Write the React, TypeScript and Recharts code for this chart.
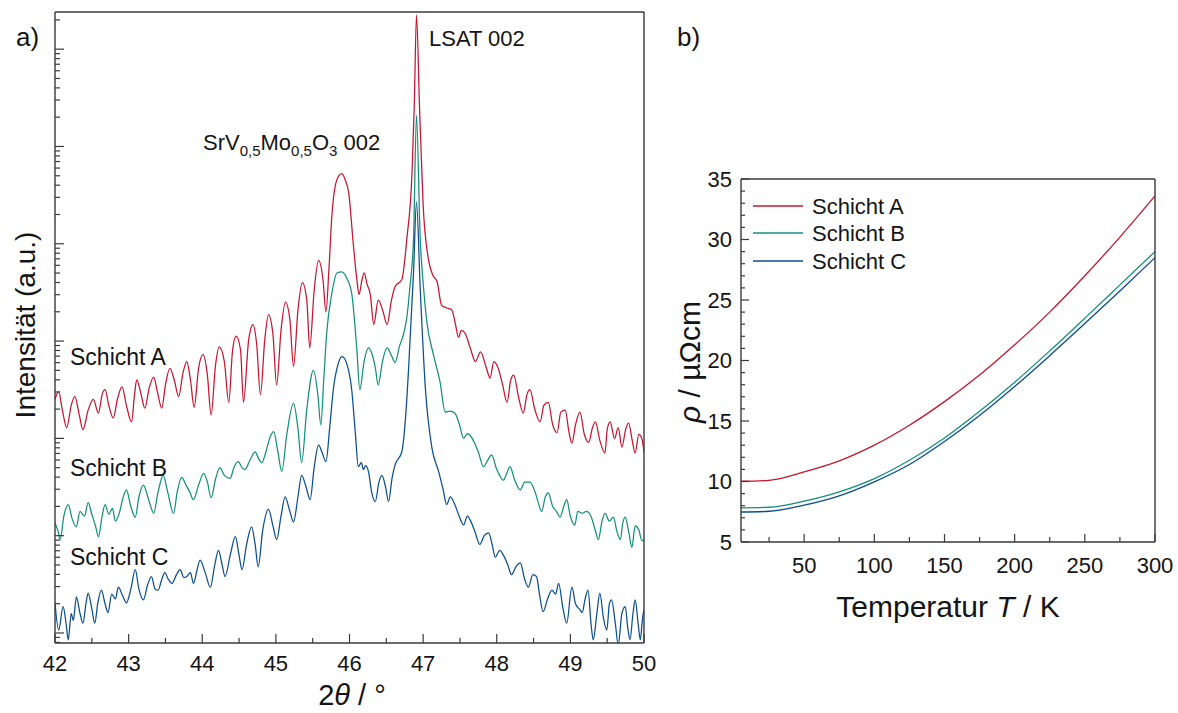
import React from "react";
import { LineChart, Line, XAxis, YAxis } from "recharts";

const FONT = "'Liberation Sans', Arial, Helvetica, sans-serif";
const INK = "#141414";
const AXIS = "#3a3a3a";
const RED = "#c3162f";
const GREEN = "#12907b";
const BLUE = "#0b4e8e";

// a) XRD scans. Intensity stored as log10 (1 = lowest labelled decade)
const thetaA = [
  42.0, 42.05, 42.1, 42.16, 42.22, 42.27, 42.33, 42.38, 42.45, 42.52, 42.59, 42.64, 42.68, 42.73, 42.79, 42.85,
  42.91, 42.97, 43.04, 43.08, 43.11, 43.17, 43.22, 43.28, 43.34, 43.39, 43.45, 43.5, 43.56, 43.62, 43.68, 43.74,
  43.79, 43.84, 43.89, 43.95, 44.01, 44.07, 44.12, 44.18, 44.23, 44.3, 44.36, 44.41, 44.46, 44.52, 44.56, 44.63,
  44.69, 44.74, 44.79, 44.85, 44.9, 44.96, 45.01, 45.07, 45.13, 45.19, 45.24, 45.3, 45.36, 45.42, 45.46, 45.52,
  45.58, 45.64, 45.68, 45.72, 45.76, 45.83, 45.895, 45.94, 45.99, 46.05, 46.1, 46.13, 46.17, 46.2, 46.24, 46.28,
  46.33, 46.39, 46.45, 46.51, 46.57, 46.62, 46.71, 46.78, 46.85, 46.88, 46.91, 46.95, 47.0, 47.07, 47.13, 47.19,
  47.25, 47.32, 47.39, 47.44, 47.48, 47.52, 47.57, 47.64, 47.71, 47.78, 47.86, 47.91, 47.96, 48.02, 48.08, 48.14,
  48.19, 48.23, 48.3, 48.36, 48.41, 48.45, 48.52, 48.59, 48.64, 48.7, 48.76, 48.82, 48.87, 48.93, 48.98, 49.02,
  49.07, 49.13, 49.19, 49.25, 49.3, 49.34, 49.4, 49.47, 49.5, 49.54, 49.6, 49.65, 49.7, 49.75, 49.79, 49.84,
  49.88, 49.93, 49.97, 50.0,
];
const lgA = [
  3.40, 3.48, 3.29, 3.11, 3.34, 3.43, 3.24, 3.09, 3.29, 3.40, 3.26, 3.45, 3.50, 3.34, 3.21, 3.41,
  3.53, 3.34, 3.17, 3.45, 3.60, 3.45, 3.31, 3.52, 3.63, 3.48, 3.31, 3.55, 3.72, 3.60, 3.43, 3.68,
  3.79, 3.60, 3.32, 3.72, 3.86, 3.65, 3.24, 3.75, 3.94, 3.79, 3.37, 3.89, 4.05, 3.91, 3.37, 4.01,
  4.17, 3.96, 3.45, 4.02, 4.27, 4.07, 3.55, 4.11, 4.40, 4.22, 3.74, 4.32, 4.60, 4.42, 3.93, 4.52,
  4.83, 4.63, 4.30, 4.73, 5.28, 5.66, 5.72, 5.66, 5.52, 5.01, 4.63, 4.48, 4.63, 4.70, 4.58, 4.49,
  4.17, 4.42, 4.32, 4.17, 4.42, 4.56, 4.63, 5.06, 5.74, 6.43, 7.35, 6.43, 5.40, 4.85, 4.68, 4.61,
  4.37, 4.34, 4.32, 4.17, 4.04, 4.11, 4.08, 3.93, 3.79, 3.89, 3.72, 3.62, 3.79, 3.72, 3.55, 3.37,
  3.60, 3.65, 3.41, 3.26, 3.45, 3.50, 3.29, 3.17, 3.34, 3.37, 3.14, 3.06, 3.27, 3.29, 3.07, 2.95,
  3.14, 3.27, 3.04, 2.96, 3.11, 3.17, 2.98, 2.85, 3.09, 3.17, 3.00, 3.11, 2.91, 3.09, 3.16, 2.98,
  2.85, 3.04, 3.00, 2.86,
];

const thetaB = [
  42.0, 42.04, 42.07, 42.12, 42.18, 42.23, 42.29, 42.34, 42.4, 42.45, 42.5, 42.55, 42.59, 42.64, 42.68, 42.73,
  42.78, 42.82, 42.88, 42.92, 42.97, 43.03, 43.09, 43.14, 43.2, 43.26, 43.3, 43.34, 43.4, 43.47, 43.53, 43.61,
  43.66, 43.72, 43.78, 43.83, 43.88, 43.95, 44.02, 44.07, 44.12, 44.18, 44.24, 44.3, 44.38, 44.43, 44.49, 44.54,
  44.58, 44.65, 44.72, 44.76, 44.81, 44.86, 44.92, 44.97, 45.03, 45.08, 45.15, 45.24, 45.3, 45.35, 45.42, 45.51,
  45.57, 45.61, 45.65, 45.69, 45.76, 45.83, 45.895, 45.96, 46.03, 46.1, 46.14, 46.2, 46.26, 46.3, 46.35, 46.39,
  46.45, 46.51, 46.57, 46.62, 46.68, 46.73, 46.78, 46.82, 46.87, 46.91, 46.96, 47.0, 47.05, 47.14, 47.23, 47.3,
  47.36, 47.43, 47.49, 47.55, 47.6, 47.64, 47.7, 47.75, 47.82, 47.88, 47.93, 48.0, 48.04, 48.09, 48.14, 48.18,
  48.24, 48.32, 48.38, 48.45, 48.52, 48.56, 48.61, 48.66, 48.7, 48.76, 48.81, 48.86, 48.91, 48.95, 49.0, 49.06,
  49.1, 49.16, 49.22, 49.29, 49.34, 49.38, 49.43, 49.47, 49.53, 49.585, 49.63, 49.68, 49.71, 49.745, 49.79, 49.835,
  49.88, 49.93, 49.97, 50.0,
];
const lgB = [
  2.13, 2.05, 1.96, 2.20, 2.32, 2.18, 2.09, 2.25, 2.20, 2.34, 2.22, 2.10, 1.99, 2.20, 2.32, 2.22,
  2.28, 2.15, 2.25, 2.38, 2.47, 2.30, 2.19, 2.40, 2.52, 2.40, 2.30, 2.23, 2.45, 2.62, 2.45, 2.23,
  2.45, 2.60, 2.52, 2.45, 2.37, 2.52, 2.64, 2.55, 2.39, 2.58, 2.70, 2.62, 2.59, 2.70, 2.76, 2.70,
  2.68, 2.78, 2.86, 2.80, 2.75, 2.85, 3.01, 3.07, 2.85, 2.66, 3.05, 3.36, 3.10, 2.75, 3.30, 3.70,
  3.45, 3.14, 3.60, 4.08, 4.49, 4.70, 4.71, 4.65, 4.49, 3.91, 3.50, 3.80, 3.93, 3.88, 3.73, 3.55,
  3.80, 3.93, 3.85, 3.78, 3.95, 4.06, 4.25, 4.55, 5.06, 6.32, 5.06, 4.60, 4.20, 3.86, 3.58, 3.27,
  3.28, 3.26, 3.15, 3.00, 3.05, 3.03, 2.95, 2.86, 2.71, 2.78, 2.83, 2.68, 2.62, 2.57, 2.65, 2.71,
  2.58, 2.47, 2.55, 2.55, 2.45, 2.35, 2.25, 2.40, 2.44, 2.30, 2.25, 2.19, 2.30, 2.37, 2.20, 2.11,
  2.25, 2.23, 2.25, 2.18, 2.05, 1.96, 2.15, 2.23, 2.15, 2.19, 2.05, 1.96, 2.12, 2.19, 2.05, 1.88,
  2.10, 2.06, 1.95, 1.96,
];

const thetaC = [
  42.0, 42.05, 42.11, 42.15, 42.18, 42.22, 42.25, 42.29, 42.34, 42.38, 42.42, 42.45, 42.5, 42.54, 42.58, 42.63,
  42.68, 42.72, 42.77, 42.82, 42.86, 42.92, 42.97, 43.03, 43.09, 43.14, 43.2, 43.26, 43.31, 43.36, 43.4, 43.45,
  43.49, 43.54, 43.59, 43.65, 43.7, 43.75, 43.79, 43.84, 43.88, 43.93, 43.97, 44.04, 44.11, 44.17, 44.22, 44.27,
  44.31, 44.38, 44.45, 44.5, 44.54, 44.6, 44.67, 44.72, 44.76, 44.82, 44.9, 44.96, 45.01, 45.07, 45.125, 45.19,
  45.24, 45.3, 45.35, 45.41, 45.465, 45.52, 45.58, 45.63, 45.68, 45.73, 45.78, 45.84, 45.9, 45.97, 46.03, 46.08,
  46.12, 46.16, 46.19, 46.22, 46.26, 46.3, 46.35, 46.4, 46.44, 46.49, 46.53, 46.58, 46.62, 46.71, 46.76, 46.8,
  46.87, 46.91, 46.96, 47.03, 47.12, 47.21, 47.27, 47.32, 47.37, 47.43, 47.49, 47.55, 47.6, 47.64, 47.7, 47.77,
  47.83, 47.89, 47.94, 47.98, 48.04, 48.09, 48.15, 48.2, 48.26, 48.32, 48.38, 48.43, 48.49, 48.54, 48.58, 48.63,
  48.69, 48.75, 48.8, 48.84, 48.9, 48.95, 49.02, 49.07, 49.13, 49.16, 49.2, 49.24, 49.28, 49.31, 49.36, 49.4,
  49.45, 49.495, 49.53, 49.56, 49.61, 49.65, 49.7, 49.745, 49.78, 49.81, 49.85, 49.88, 49.92, 49.95, 49.98, 50.0,
];
const lgC = [
  1.31, 1.03, 1.27, 1.10, 0.93, 1.20, 1.13, 1.37, 1.20, 1.10, 1.30, 1.41, 1.25, 1.10, 1.30, 1.44,
  1.30, 1.21, 1.40, 1.35, 1.47, 1.38, 1.31, 1.45, 1.65, 1.45, 1.34, 1.50, 1.58, 1.45, 1.44, 1.55,
  1.62, 1.55, 1.51, 1.60, 1.65, 1.57, 1.58, 1.62, 1.51, 1.65, 1.75, 1.62, 1.47, 1.70, 1.85, 1.70,
  1.58, 1.80, 1.99, 1.80, 1.65, 1.90, 2.09, 1.90, 1.68, 2.05, 2.27, 2.10, 1.96, 2.20, 2.40, 2.25,
  2.14, 2.40, 2.62, 2.50, 2.37, 2.70, 2.93, 2.85, 2.76, 3.10, 3.50, 3.75, 3.84, 3.75, 3.50, 3.05,
  2.71, 2.75, 2.68, 2.72, 2.65, 2.45, 2.35, 2.55, 2.62, 2.50, 2.35, 2.60, 2.73, 2.86, 3.20, 3.68,
  4.71, 5.43, 4.55, 3.52, 2.90, 2.66, 2.48, 2.32, 2.40, 2.32, 2.20, 2.11, 2.20, 2.16, 2.05, 1.91,
  2.00, 2.03, 1.90, 1.78, 1.85, 1.80, 1.70, 1.60, 1.68, 1.72, 1.55, 1.47, 1.60, 1.58, 1.40, 1.22,
  1.35, 1.44, 1.40, 1.51, 1.25, 1.10, 1.47, 1.30, 1.24, 1.21, 1.35, 1.44, 1.10, 0.93, 1.20, 1.41,
  1.15, 1.03, 1.30, 1.34, 1.10, 0.88, 1.20, 1.27, 1.05, 0.93, 1.20, 1.34, 1.10, 0.93, 1.15, 1.24,
];

const thetaTicks = [42, 42.5, 43, 43.5, 44, 44.5, 45, 45.5, 46, 46.5, 47, 47.5, 48, 48.5, 49, 49.5, 50];
const LG_MIN = 0.897;
const LG_MAX = 7.382;

// b) resistivity
const tempK = [5, 25, 50, 75, 100, 125, 150, 175, 200, 225, 250, 275, 300];
const rhoA = [10.02, 10.1, 10.79, 11.7, 13.0, 14.65, 16.6, 18.8, 21.3, 24.0, 27.0, 30.2, 33.6];
const rhoB = [7.82, 7.87, 8.37, 9.14, 10.24, 11.76, 13.6, 15.8, 18.2, 20.8, 23.5, 26.25, 29.0];
const rhoC = [7.48, 7.54, 8.04, 8.81, 9.97, 11.4, 13.3, 15.45, 17.85, 20.4, 23.05, 25.75, 28.5];
const tempTicks = [25, 50, 75, 100, 125, 150, 175, 200, 225, 250, 275, 300];
const rhoTicks = Array.from({ length: 31 }, (_, i) => 5 + i);

// eslint-disable-next-line @typescript-eslint/no-explicit-any
type Any = any;

const logTicks: number[] = [];
for (let k = 0; k <= 7; k++) {
  for (let m = 1; m <= 9; m++) {
    const v = k + Math.log10(m);
    if (v >= LG_MIN && v <= LG_MAX) logTicks.push(v);
  }
}

const rowsA = thetaA.map((x, i) => ({ x, y: lgA[i] }));
const rowsB = thetaB.map((x, i) => ({ x, y: lgB[i] }));
const rowsC = thetaC.map((x, i) => ({ x, y: lgC[i] }));
const rhoRows = tempK.map((t, i) => ({ t, a: rhoA[i], b: rhoB[i], c: rhoC[i] }));

const isInt = (v: number) => Math.abs(v - Math.round(v)) < 1e-6;

// axes get width/height 1 (Recharts skips axes of size 0); ticks are drawn inward by hand
function LogTick({ x, y, payload }: Any) {
  const len = isInt(payload.value) ? 9 : 5;
  return <line x1={x} x2={x + len} y1={y} y2={y} stroke={AXIS} strokeWidth={1.2} />;
}

function ThetaTick({ x, y, payload }: Any) {
  const major = isInt(payload.value);
  return (
    <g>
      <line x1={x} x2={x} y1={y} y2={y - (major ? 9 : 5)} stroke={AXIS} strokeWidth={1.2} />
      {major && (
        <text x={x} y={y + 28} textAnchor="middle" fontSize={22} fontFamily={FONT} fill={INK}>
          {payload.value}
        </text>
      )}
    </g>
  );
}

function RhoTick({ x, y, payload }: Any) {
  const major = payload.value % 5 === 0;
  return (
    <g>
      <line x1={x} x2={x + (major ? 8 : 4)} y1={y} y2={y} stroke={AXIS} strokeWidth={1.2} />
      {major && (
        <text x={x - 9} y={y} dy="0.36em" textAnchor="end" fontSize={22} fontFamily={FONT} fill={INK}>
          {payload.value}
        </text>
      )}
    </g>
  );
}

function RhoTickRight({ x, y, payload }: Any) {
  const major = payload.value % 5 === 0;
  return <line x1={x} x2={x - (major ? 8 : 4)} y1={y} y2={y} stroke={AXIS} strokeWidth={1.2} />;
}

function TempTick({ x, y, payload }: Any) {
  const major = payload.value % 50 === 0;
  return (
    <g>
      <line x1={x} x2={x} y1={y} y2={y - (major ? 8 : 5)} stroke={AXIS} strokeWidth={1.2} />
      {major && (
        <text x={x} y={y + 31} textAnchor="middle" fontSize={22} fontFamily={FONT} fill={INK}>
          {payload.value}
        </text>
      )}
    </g>
  );
}

const axisLine = { stroke: AXIS, strokeWidth: 1.4 };

function XrdPanel() {
  return (
    <LineChart width={660} height={713} margin={{ top: 11, right: 15, bottom: 69, left: 54 }}>
      <XAxis type="number" dataKey="x" domain={[42, 50]} ticks={thetaTicks} interval={0}
        height={1} tickSize={0} tickMargin={0} tickLine={false} axisLine={axisLine} tick={(p: Any) => <ThetaTick {...p} />} allowDataOverflow />
      <XAxis xAxisId="top" orientation="top" type="number" domain={[0, 1]} height={1} tick={false} tickLine={false} axisLine={axisLine} />
      <YAxis type="number" domain={[LG_MIN, LG_MAX]} ticks={logTicks} interval={0}
        width={1} tickSize={0} tickMargin={0} tickLine={false} axisLine={axisLine} tick={(p: Any) => <LogTick {...p} />} allowDataOverflow />
      <YAxis yAxisId="right" orientation="right" type="number" domain={[0, 1]} width={1} tick={false} tickLine={false} axisLine={axisLine} />
      <Line data={rowsA} dataKey="y" type="monotoneX" stroke={RED} strokeWidth={1.25} dot={false} isAnimationActive={false} />
      <Line data={rowsB} dataKey="y" type="monotoneX" stroke={GREEN} strokeWidth={1.25} dot={false} isAnimationActive={false} />
      <Line data={rowsC} dataKey="y" type="monotoneX" stroke={BLUE} strokeWidth={1.25} dot={false} isAnimationActive={false} />
    </LineChart>
  );
}

function RhoPanel() {
  return (
    <LineChart width={518} height={713} data={rhoRows} margin={{ top: 178, right: 22, bottom: 170, left: 80 }}>
      <XAxis type="number" dataKey="t" domain={[5, 300]} ticks={tempTicks} interval={0}
        height={1} tickSize={0} tickMargin={0} tickLine={false} axisLine={axisLine} tick={(p: Any) => <TempTick {...p} />} />
      <XAxis xAxisId="top" orientation="top" type="number" domain={[0, 1]} height={1} tick={false} tickLine={false} axisLine={axisLine} />
      <YAxis yAxisId="l" type="number" domain={[5, 35]} ticks={rhoTicks} interval={0}
        width={1} tickSize={0} tickMargin={0} tickLine={false} axisLine={axisLine} tick={(p: Any) => <RhoTick {...p} />} />
      <YAxis yAxisId="r" orientation="right" type="number" domain={[5, 35]} ticks={rhoTicks} interval={0}
        width={1} tickSize={0} tickMargin={0} tickLine={false} axisLine={axisLine} tick={(p: Any) => <RhoTickRight {...p} />} />
      <Line yAxisId="l" dataKey="a" type="monotone" stroke={RED} strokeWidth={1.3} dot={false} isAnimationActive={false} />
      <Line yAxisId="l" dataKey="b" type="monotone" stroke={GREEN} strokeWidth={1.3} dot={false} isAnimationActive={false} />
      <Line yAxisId="l" dataKey="c" type="monotone" stroke={BLUE} strokeWidth={1.3} dot={false} isAnimationActive={false} />
    </LineChart>
  );
}

const legendItems = [
  { name: "Schicht A", color: RED, y: 206 },
  { name: "Schicht B", color: GREEN, y: 233 },
  { name: "Schicht C", color: BLUE, y: 261 },
];

export default function App() {
  return (
    <div style={{ position: "absolute", left: 0, top: 0, width: 1178, height: 713, background: "#fff", fontFamily: FONT }}>
      <div style={{ position: "absolute", left: 0, top: 0 }}>
        <XrdPanel />
      </div>
      <div style={{ position: "absolute", left: 660, top: 0 }}>
        <RhoPanel />
      </div>
      <svg width={1178} height={713} style={{ position: "absolute", left: 0, top: 0, pointerEvents: "none" }} fontFamily={FONT} fill={INK}>
        <text x={16} y={46} fontSize={26}>a)</text>
        <text x={677} y={46} fontSize={26}>b)</text>

        <text x={429} y={46} fontSize={22}>LSAT 002</text>
        <text x={203} y={150} fontSize={22}>
          SrV<tspan fontSize={15} dy={6}>0,5</tspan>
          <tspan dy={-6}>Mo</tspan>
          <tspan fontSize={15} dy={6}>0,5</tspan>
          <tspan dy={-6}>O</tspan>
          <tspan fontSize={15} dy={6}>3</tspan>
          <tspan dy={-6}> 002</tspan>
        </text>
        <text x={70} y={365} fontSize={23}>Schicht A</text>
        <text x={70} y={476} fontSize={23}>Schicht B</text>
        <text x={70} y={565} fontSize={23}>Schicht C</text>

        <text x={352} y={705} fontSize={29} textAnchor="middle">
          2<tspan fontStyle="italic">θ</tspan> / °
        </text>
        <text transform="translate(35,325) rotate(-90)" fontSize={28} textAnchor="middle">Intensität (a.u.)</text>

        <text x={948} y={617} fontSize={30} textAnchor="middle">
          Temperatur <tspan fontStyle="italic">T</tspan> / K
        </text>
        <text transform="translate(700,362) rotate(-90)" fontSize={30} textAnchor="middle">
          <tspan fontStyle="italic">ρ</tspan> / µΩcm
        </text>

        {legendItems.map((it) => (
          <g key={it.name}>
            <line x1={753} x2={803} y1={it.y} y2={it.y} stroke={it.color} strokeWidth={1.3} />
            <text x={812} y={it.y + 8} fontSize={22}>{it.name}</text>
          </g>
        ))}
      </svg>
    </div>
  );
}
